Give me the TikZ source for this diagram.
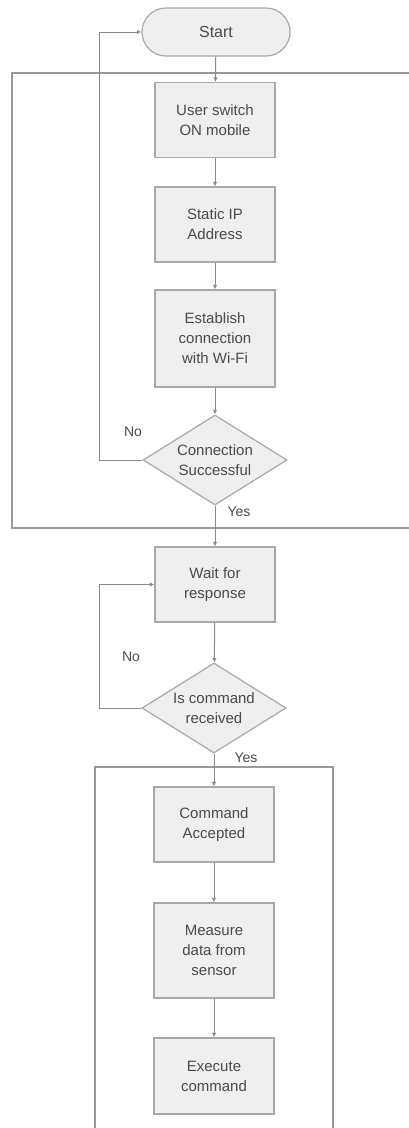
\documentclass[tikz,border=0pt]{standalone}
\usepackage{fontspec}
\setmainfont{Liberation Sans}
\usetikzlibrary{shapes.geometric,arrows.meta}
\definecolor{linec}{HTML}{8A8A8A}
\definecolor{framecol}{HTML}{9A9A9A}
\definecolor{boxfill}{HTML}{EFEFEF}
\definecolor{boxdraw}{HTML}{A8A8A8}
\definecolor{txt}{HTML}{4A4A4A}
\tikzset{
  procbox/.style={draw=boxdraw, line width=1.2pt, fill=boxfill, minimum width=120pt, inner sep=0pt,
    align=center, text=txt, font=\fontsize{15}{20}\selectfont},
  decbox/.style={diamond, draw=boxdraw, line width=1.2pt, fill=boxfill, inner sep=0pt, aspect=1.6,
    minimum width=144pt, minimum height=90pt, align=center, text=txt, font=\fontsize{15}{20}\selectfont},
  termbox/.style={draw=boxdraw, line width=1.2pt, fill=boxfill, rounded corners=24pt,
    minimum width=148pt, minimum height=48pt, text=txt, font=\fontsize{16}{20}\selectfont},
  conn/.style={draw=linec, line width=1pt, -{Latex[length=4.5pt,width=4.5pt]}},
  framec/.style={draw=framecol, line width=1.2pt},
  lbl/.style={text=txt, font=\fontsize{14}{16}\selectfont, inner sep=0pt}
}
\begin{document}
\begin{tikzpicture}[x=1pt,y=-1pt]
\useasboundingbox (0,0) rectangle (409,1128);
\begin{scope}
\clip (0,0) rectangle (409,1128);
\draw[framec] (12,73) rectangle (415,528);
\draw[framec] (95,767) rectangle (333,1140);
\end{scope}

\node[termbox] (start) at (216,32) {Start};
\node[procbox, minimum height=75pt] (b1) at (215,120) {User switch\\ON mobile};
\node[procbox, minimum height=75pt] (b2) at (215,224.5) {Static IP\\Address};
\node[procbox, minimum height=97pt] (b3) at (215,338.5) {Establish\\connection\\with Wi-Fi};
\node[decbox] (d1) at (215,460) {Connection\\Successful};
\node[procbox, minimum height=75pt] (b4) at (215,584.5) {Wait for\\response};
\node[decbox] (d2) at (214,708) {Is command\\received};
\node[procbox, minimum height=75pt] (b5) at (214,824.5) {Command\\Accepted};
\node[procbox, minimum height=95pt] (b6) at (214,950.5) {Measure\\data from\\sensor};
\node[procbox, minimum height=76pt] (b7) at (214,1076) {Execute\\command};

\draw[conn] (start) -- (b1);
\draw[conn] (b1) -- (b2);
\draw[conn] (b2) -- (b3);
\draw[conn] (b3) -- (d1);
\draw[conn] (d1.west) -- ++(-43,0) coordinate (lp1) |- (start.west);
\draw[conn] (d1) -- (b4);
\draw[conn] (b4) -- (d2);
\draw[conn] (d2.west) -- ++(-42,0) coordinate (lp2) |- (b4.west);
\draw[conn] (d2) -- (b5);
\draw[conn] (b5) -- (b6);
\draw[conn] (b6) -- (b7);

\node[lbl] (no1) at (133,432) {No};
\node[lbl] (yes1) at (239,512) {Yes};
\node[lbl] (no2) at (131,657) {No};
\node[lbl] (yes2) at (246,758) {Yes};
\end{tikzpicture}
\end{document}
